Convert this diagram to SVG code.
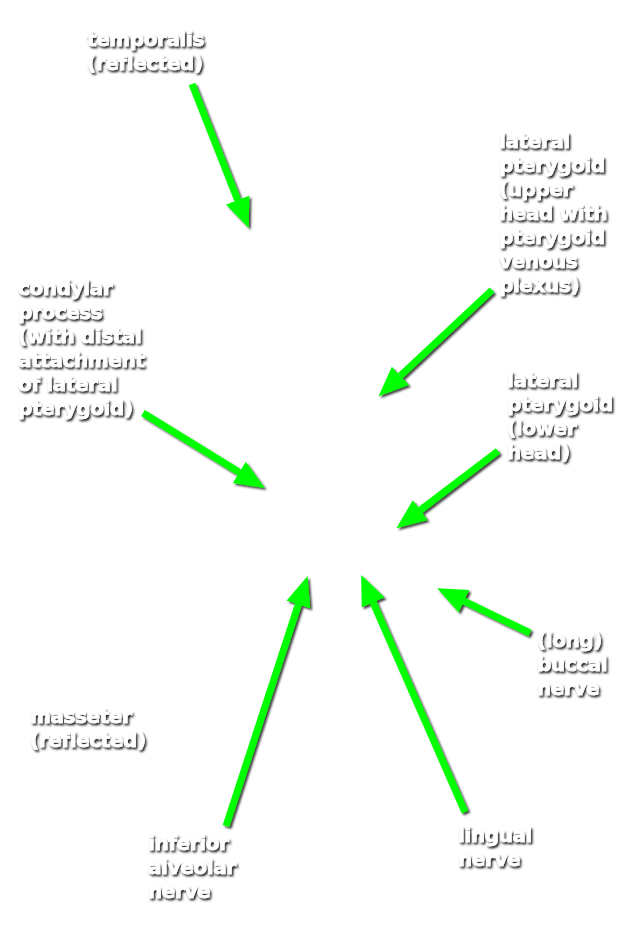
<svg xmlns="http://www.w3.org/2000/svg" width="631" height="950" viewBox="0 0 631 950">
<style>
.lbl{font-family:"DejaVu Sans","Liberation Sans",sans-serif;font-weight:bold;font-size:20px;fill:#ffffff;stroke:#ffffff;stroke-width:0.6px;letter-spacing:-0.4px}
.arr{stroke:#00ff00;stroke-width:7;fill:none;marker-end:url(#head)}
</style>
<defs>
<filter id="tsh" x="-10%" y="-10%" width="120%" height="130%">
<feDropShadow dx="1.5" dy="2" stdDeviation="1.2" flood-color="#000" flood-opacity="0.9"/>
</filter>
<filter id="ash" x="-20%" y="-20%" width="140%" height="140%">
<feDropShadow dx="2" dy="2" stdDeviation="1.3" flood-color="#000" flood-opacity="0.75"/>
</filter>
<marker id="head" markerUnits="userSpaceOnUse" markerWidth="31" markerHeight="28" viewBox="0 -14 31 28" refX="0" refY="0" orient="auto">
<path d="M0,-12.5 L30,0 L0,12.5 Z" fill="#00ff00"/>
</marker>
</defs>
<rect width="631" height="950" fill="#ffffff"/>
<g id="connectors" filter="url(#ash)">
<line class="arr" x1="192" y1="84" x2="237.7" y2="200"/>
<line class="arr" x1="492" y1="290" x2="400.4" y2="375.8"/>
<line class="arr" x1="143" y1="413" x2="239.2" y2="472.3"/>
<line class="arr" x1="498" y1="451" x2="420.3" y2="510.1"/>
<line class="arr" x1="226" y1="826" x2="298.3" y2="604.6"/>
<line class="arr" x1="465" y1="812" x2="373.2" y2="602.6"/>
<line class="arr" x1="530" y1="633" x2="464.2" y2="601.2"/>
</g>
<g id="temporalis" filter="url(#tsh)">
<text class="lbl" x="87" y="46">temporalis</text>
<text class="lbl" x="87" y="70">(reflected)</text>
</g>
<g id="lateral-pterygoid-upper" filter="url(#tsh)">
<text class="lbl" x="499" y="148">lateral</text>
<text class="lbl" x="499" y="172">pterygoid</text>
<text class="lbl" x="499" y="196">(upper</text>
<text class="lbl" x="499" y="220">head with</text>
<text class="lbl" x="499" y="244">pterygoid</text>
<text class="lbl" x="499" y="268">venous</text>
<text class="lbl" x="499" y="292">plexus)</text>
</g>
<g id="condylar-process" filter="url(#tsh)">
<text class="lbl" x="18" y="295">condylar</text>
<text class="lbl" x="18" y="319">process</text>
<text class="lbl" x="18" y="343">(with distal</text>
<text class="lbl" x="18" y="367">attachment</text>
<text class="lbl" x="18" y="391">of lateral</text>
<text class="lbl" x="18" y="415">pterygoid)</text>
</g>
<g id="lateral-pterygoid-lower" filter="url(#tsh)">
<text class="lbl" x="507" y="387">lateral</text>
<text class="lbl" x="507" y="411">pterygoid</text>
<text class="lbl" x="507" y="435">(lower</text>
<text class="lbl" x="507" y="459">head)</text>
</g>
<g id="buccal-nerve" filter="url(#tsh)">
<text class="lbl" x="537" y="647">(long)</text>
<text class="lbl" x="537" y="671">buccal</text>
<text class="lbl" x="537" y="695">nerve</text>
</g>
<g id="masseter" filter="url(#tsh)">
<text class="lbl" x="30" y="723">masseter</text>
<text class="lbl" x="30" y="747">(reflected)</text>
</g>
<g id="inferior-alveolar-nerve" filter="url(#tsh)">
<text class="lbl" x="148" y="850">inferior</text>
<text class="lbl" x="148" y="874">alveolar</text>
<text class="lbl" x="148" y="898">nerve</text>
</g>
<g id="lingual-nerve" filter="url(#tsh)">
<text class="lbl" x="458" y="842">lingual</text>
<text class="lbl" x="458" y="866">nerve</text>
</g>
</svg>
